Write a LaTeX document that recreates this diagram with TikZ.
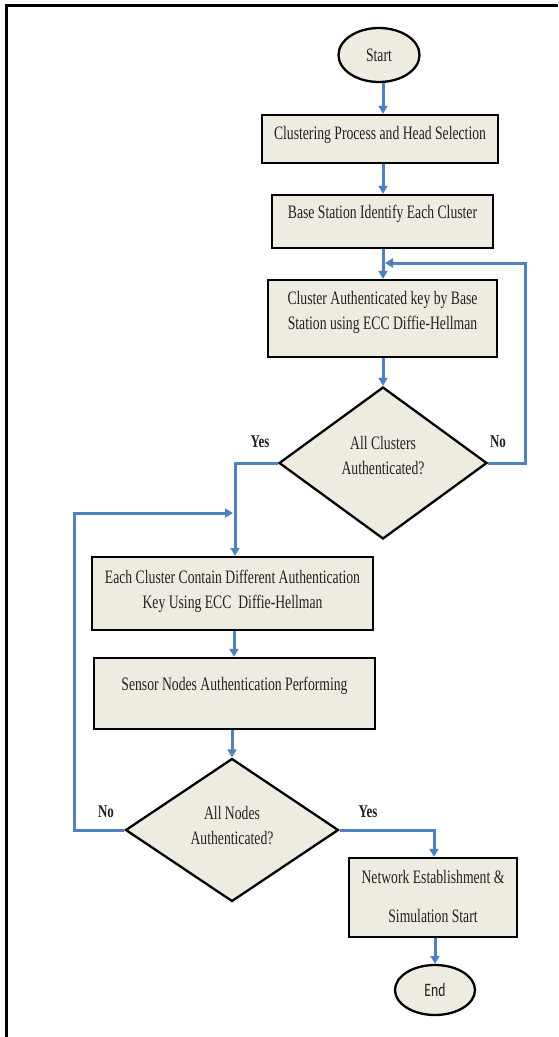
\documentclass[tikz,border=0pt]{standalone}
\usepackage{fontspec}
\setmainfont{Liberation Serif}[FakeStretch=0.72]
\newfontfamily\termfont{Carlito}[FakeStretch=0.72]
\usetikzlibrary{shapes.geometric,arrows.meta}
\definecolor{flowblue}{HTML}{4F81BD}
\definecolor{boxfill}{HTML}{EEECE1}
\definecolor{inkgray}{HTML}{222222}
% raise a block of centred lines without changing its reported size
\newcommand{\liftup}[2]{\raisebox{#1}[\height][\depth]{\begin{tabular}{@{}c@{}}#2\end{tabular}}}

\begin{document}
\begin{tikzpicture}[x=1pt,y=-1pt,
  txt/.style={font=\fontsize{19}{25}\selectfont,text=inkgray},
  process/.style={draw=black,line width=2.3pt,fill=boxfill,rectangle,inner sep=0pt,txt},
  decision/.style={draw=black,line width=2.3pt,fill=boxfill,diamond,inner sep=0pt,txt},
  terminal/.style={draw=black,line width=2.3pt,fill=boxfill,ellipse,inner sep=0pt},
  flow/.style={draw=flowblue,line width=3pt,-{Triangle[length=8pt,width=9pt]}},
  answer/.style={font=\fontsize{18}{21}\selectfont\bfseries,text=inkgray}]

\useasboundingbox (0,0) rectangle (558,1037);

% page frame
\draw[line width=2.2pt] (558,5.5) -- (6.5,5.5) -- (6.5,1037);

% terminals
\node[terminal,minimum width=81pt,minimum height=54pt,txt] (start) at (379,55) {Start};
\node[terminal,minimum width=80pt,minimum height=50pt,text=inkgray,
      font=\termfont\fontsize{19}{22}\selectfont] (end) at (435,990) {End};

% process boxes
\node[process,minimum width=236pt,minimum height=48pt] (cluster) at (380,139)
  {\liftup{4.7pt}{Clustering Process and Head Selection}};
\node[process,minimum width=221pt,minimum height=53pt] (identify) at (382.5,221.5)
  {\liftup{8pt}{Base Station Identify Each Cluster}};
\node[process,minimum width=229pt,minimum height=77pt] (bskey) at (382.5,318.5)
  {\liftup{6.5pt}{Cluster Authenticated key by Base\\Station using ECC Diffie-Hellman}};
\node[process,minimum width=281pt,minimum height=73pt] (ckey) at (232.5,593.5)
  {\liftup{3pt}{Each Cluster Contain Different Authentication\\Key Using ECC\ \ Diffie-Hellman}};
\node[process,minimum width=281pt,minimum height=71pt] (sensor) at (234.5,693.5)
  {\liftup{8pt}{Sensor Nodes Authentication Performing}};
\node[process,minimum width=168pt,minimum height=79pt] (network) at (433,897.5)
  {\liftup{0pt}{Network Establishment \&\\[14pt]Simulation Start}};

% decisions
\node[decision,minimum width=208pt,minimum height=152pt] (allc) at (383,463)
  {\liftup{6.5pt}{All Clusters\\Authenticated?}};
\node[decision,minimum width=213pt,minimum height=143pt] (alln) at (232,830)
  {\liftup{3pt}{All Nodes\\Authenticated?}};

% branch labels
\node[answer] (yes1) at (260,442) {Yes};
\node[answer] (no1) at (498,442) {No};
\node[answer] (no2) at (106,812) {No};
\node[answer] (yes2) at (368,812) {Yes};

% bend points of the loops
\coordinate (c1) at (525,463);
\coordinate (c2) at (525,263);
\coordinate (c3) at (385,263);
\coordinate (y1) at (235,463);
\coordinate (n1) at (74,830);
\coordinate (n2) at (74,513);
\coordinate (n3) at (233,513);
\coordinate (y2) at (434,830);

% main flow
\draw[flow] (start.south -| 383,0) -- (cluster.north -| 383,0);
\draw[flow] (cluster.south -| 383,0) -- (identify.north -| 383,0);
\draw[flow] (identify.south -| 383,0) -- (bskey.north -| 383,0);
\draw[flow] (bskey.south -| allc.north) -- (allc.north);
\draw[flow] (allc.west) -- (y1) -- (y1 |- ckey.north);
\draw[flow] (allc.east) -- (c1) -- (c2) -- (c3);
\draw[flow] (ckey.south -| 234,0) -- (sensor.north -| 234,0);
\draw[flow] (sensor.south -| alln.north) -- (alln.north);
\draw[flow] (alln.west) -- (n1) -- (n2) -- (n3);
\draw[flow] (alln.east) -- (y2) -- (y2 |- network.north);
\draw[flow] (network.south -| end.north) -- (end.north);
\end{tikzpicture}
\end{document}
